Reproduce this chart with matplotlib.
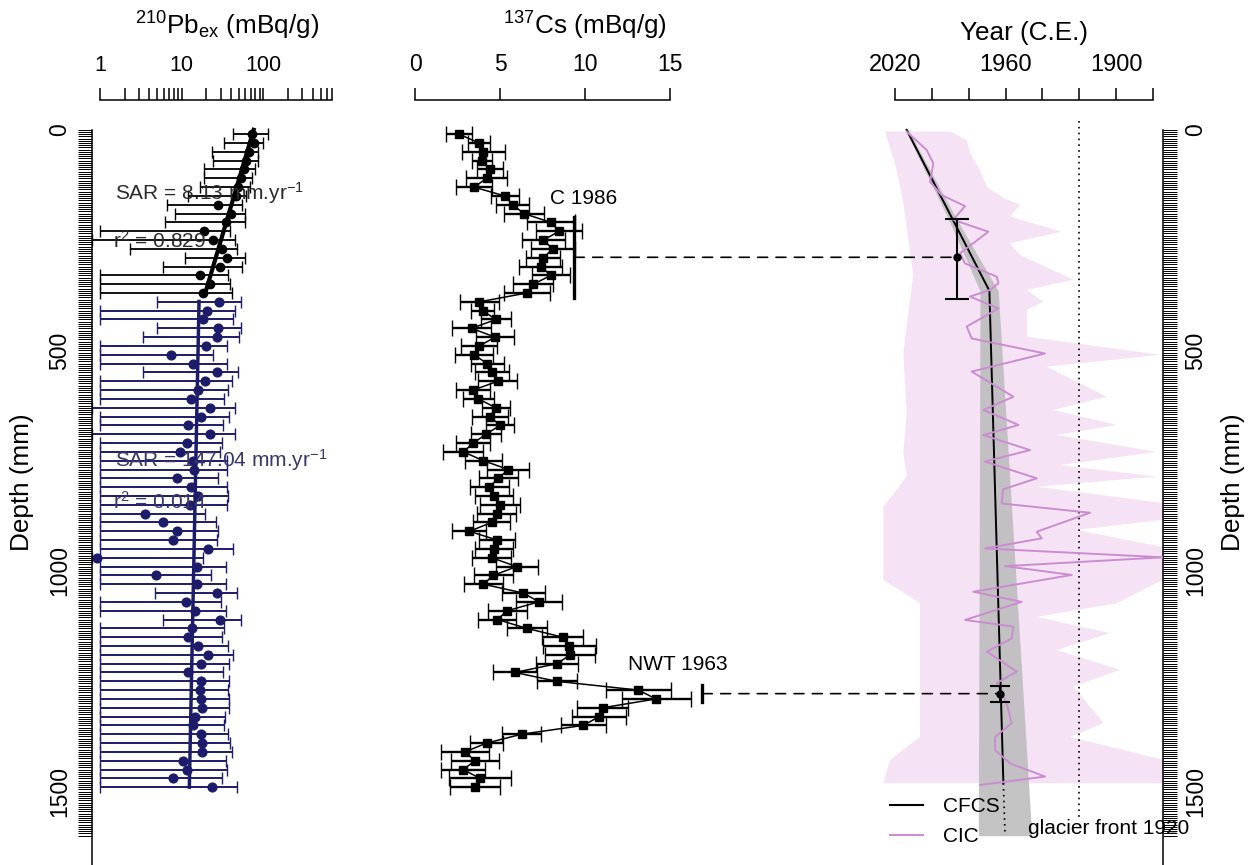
import numpy as np
import matplotlib.pyplot as plt
from matplotlib.lines import Line2D
from matplotlib.patches import ConnectionPatch
from matplotlib.ticker import NullFormatter

plt.rcParams['font.family'] = ['Liberation Sans', 'DejaVu Sans']
plt.rcParams['mathtext.fontset'] = 'custom'
plt.rcParams['mathtext.rm'] = 'Liberation Sans'
plt.rcParams['mathtext.it'] = 'Liberation Sans:italic'
plt.rcParams['mathtext.bf'] = 'Liberation Sans:bold'

# ---------------- data ----------------
# sample mid-depths (mm)
pb_depth_sup = [10, 30, 50, 70, 90, 110, 130, 150, 170, 190, 210, 230, 250, 270,
                290, 310, 330, 350, 370]
pb_depth_sub = [390, 410, 430, 450, 470, 490, 510, 530, 550, 570, 590, 610, 630,
                650, 670, 690, 710, 730, 750, 770, 790, 810, 830, 850, 870, 890,
                910, 930, 950, 970, 990, 1010, 1030, 1050, 1070, 1090, 1110, 1130,
                1150, 1170, 1190, 1210, 1230, 1250, 1270, 1290, 1310, 1330, 1350,
                1370, 1390, 1410, 1430, 1450, 1470, 1490]
cs_depth = pb_depth_sup + pb_depth_sub

# 210Pb excess (mBq/g), upper section (black) and lower section (navy)
pb_sup = [72.5, 76.7, 66.6, 61.2, 57.9, 53.2, 48.9, 46.2, 27.8, 40.1, 34.8, 18.8,
          24.2, 31.1, 35.8, 29.4, 16.7, 22.2, 18.2]
pb_sup_lo = [42.5, 32.9, 23.5, 24.2, 18.7, 18.7, 16.7, 12.0, 6.6, 8.3, 6.2, 1, 0.8,
             2.3, 11.0, 5.9, 1, 1, 1]
pb_sup_hi = [113.8, 98.9, 85.9, 85.9, 78.9, 72.5, 68.5, 62.0, 54.7, 59.6, 59.6, 39.0,
             45.0, 47.5, 59.6, 54.7, 36.9, 39.0, 41.3]
pb_sub = [28.6, 20.4, 18.2, 27.8, 27.0, 19.8, 7.4, 13.7, 27.0, 19.3,
          15.8, 13.0, 22.2, 17.2, 11.9, 22.2, 11.6, 9.5, 13.7, 14.1,
          8.8, 13.0, 15.8, 12.6, 3.55, 5.9, 8.8, 7.8, 21.0, 0.92,
          15.4, 4.85, 15.4, 27.0, 11.3, 14.5, 29.4, 13.4, 11.9, 15.8,
          21.0, 17.2, 11.9, 17.2, 16.7, 17.2, 17.7, 14.5, 13.7, 17.2,
          17.7, 17.7, 10.4, 11.6, 7.8, 23.5]
pb_sub_lo = [5.0, 1, 1, 5.0, 3.4, 1, 1, 1, 3.4, 1,
             1, 1, 0.8, 1, 1, 0.8, 1, 1, 1, 1,
             1, 1, 1, 1, 1, 1, 1, 1, 1, 0.8,
             1, 1, 1, 4.7, 1, 1, 5.9, 1, 1, 1,
             1, 1, 1, 1, 1, 1, 1, 1, 1, 1,
             1, 1, 1, 1, 1, 1]
pb_sub_hi = [53.9, 44.9, 42.9, 52.6, 50.9, 35.5, 24.4, 35.5, 49.5, 40.9,
             37.2, 32.9, 44.9, 38.2, 31.6, 44.9, 30.8, 29.4, 35.5, 35.5,
             28.1, 35.5, 37.2, 35.5, 19.3, 26.3, 28.1, 26.8, 42.9, 18.4,
             34.8, 22.6, 34.8, 48.1, 30.0, 34.8, 53.9, 32.9, 30.8, 37.2,
             42.9, 38.2, 31.6, 38.2, 37.2, 38.2, 38.2, 34.2, 32.9, 37.2,
             39.0, 40.9, 34.8, 35.5, 30.8, 48.1]
# fitted lines (end points)
fit_sup_pb = [76.0, 19.3]
fit_sup_depth = [0, 372]
fit_sub_pb = [16.3, 12.4]
fit_sub_depth = [389, 1490]

# 137Cs (mBq/g)
cs = [2.59, 3.78, 4.02, 3.92, 4.41, 4.22, 3.47, 5.29, 5.75, 6.41,
      8.0, 8.49, 7.55, 8.10, 7.55, 7.39, 8.0, 6.96, 6.57, 3.78,
      3.98, 4.76, 3.33, 4.71, 3.78, 3.47, 4.25, 4.51, 4.86, 3.43,
      3.73, 4.76, 4.41, 5.0, 4.18, 3.43, 2.84, 4.02, 5.49, 4.90,
      4.37, 4.65, 5.0, 4.80, 4.51, 3.20, 4.84, 4.65, 4.51, 5.98,
      4.61, 4.02, 6.37, 7.29, 5.43, 4.84, 6.57, 8.69, 9.08, 9.12,
      8.37, 5.88, 8.33, 13.14, 14.18, 11.04, 10.84, 9.90, 6.27, 4.22,
      2.94, 3.53, 2.84, 3.82, 3.53]
cs_err = [0.76, 0.64, 1.25, 0.59, 0.78, 1.2, 1.05, 0.83, 0.98, 1.2,
          1.4, 1.35, 1.27, 1.3, 1.0, 1.25, 1.13, 1.18, 1.35, 1.14,
          0.66, 0.86, 1.13, 1.12, 1.05, 1.1, 0.98, 1.0, 1.15, 1.0,
          0.9, 0.84, 1.08, 0.8, 0.9, 1.0, 1.18, 1.08, 1.23, 1.15,
          1.16, 1.13, 1.2, 1.14, 1.08, 1.0, 1.05, 1.13, 1.13, 1.23,
          1.13, 1.13, 1.27, 1.35, 1.13, 1.13, 1.18, 1.2, 1.57, 1.47,
          1.23, 1.3, 1.18, 1.9, 2.03, 1.5, 1.59, 1.32, 1.15, 0.96,
          1.43, 1.42, 1.3, 1.83, 1.45]

# chronomarkers
c1986_cs, c1986_range = 9.37, [197, 382]
c1986_year, c1986_depth, c1986_err = 1986.3, 289, [87, 95]
nwt_cs, nwt_range = 16.9, [1258, 1296]
nwt_year, nwt_depth, nwt_err = 1963.3, 1278, [18, 20]

# CFCS age model and its uncertainty band
cfcs_depth = [0, 365, 1481]
cfcs_year = [2013.7, 1968.8, 1961.2]
cfcs_ext_depth = [1481, 1600]
cfcs_ext_year = [1961.2, 1960.3]
band_depth = [0, 200, 365, 1600]
band_young = [2014.5, 1991.3, 1973.9, 1974.8]
band_old = [2012.8, 1986.9, 1964.0, 1945.8]

# CIC age model and its envelope
cic_depth = [4, 46, 76, 118, 148, 173, 204, 231, 280, 303, 333, 348, 363, 378,
             405, 446, 473, 507, 548, 605, 635, 669, 692, 726, 752, 790, 815,
             847, 868, 911, 926, 949, 969, 989, 1009, 1047, 1070, 1111, 1126,
             1153, 1183, 1228, 1254, 1300, 1345, 1376, 1406, 1436, 1466, 1485]
cic_year = [2013.7, 2002.8, 1999.2, 2001.0, 1994.7, 1982.0, 1988.4, 1969.4,
            1984.7, 1982.0, 1964.8, 1963.9, 1968.4, 1979.3, 1963.9, 1981.1,
            1978.4, 1938.6, 1978.4, 1955.8, 1972.0, 1953.0, 1972.0, 1946.7,
            1971.2, 1943.1, 1961.4, 1962.1, 1914.2, 1943.1, 1940.4, 1971.2,
            1874.4, 1960.3, 1924.1, 1977.5, 1951.3, 1982.0, 1955.8, 1956.7,
            1970.2, 1953.9, 1964.8, 1959.4, 1956.7, 1965.7, 1965.7, 1957.6,
            1938.6, 1973.9]
env_left_depth = [4, 91, 166, 330, 386, 507, 643, 733, 786, 855, 1020, 1073,
                  1376, 1428, 1481]
env_left_year = [2025.4, 2019.1, 2015.5, 2010.1, 2011.9, 2015.5, 2013.7, 2015.5,
                 2013.7, 2026.3, 2026.3, 2006.4, 2006.4, 2022.7, 2026.3]
env_right_depth = [4, 23, 53, 91, 129, 155, 170, 197, 231, 257, 284, 340, 363,
                   390, 408, 469, 510, 537, 605, 635, 669, 692, 730, 760, 786,
                   809, 846, 884, 907, 946, 1020, 1073, 1104, 1141, 1179, 1224,
                   1262, 1345, 1376, 1428, 1481]
env_right_year = [1990.2, 1981.1, 1979.3, 1973.9, 1970.2, 1961.2, 1952.2, 1957.6,
                  1929.6, 1957.6, 1952.2, 1923.2, 1948.5, 1939.5, 1948.5, 1948.5,
                  1876.2, 1937.7, 1905.1, 1934.1, 1899.7, 1932.3, 1878.0, 1930.5,
                  1878.0, 1943.1, 1874.6, 1874.6, 1921.4, 1874.6, 1874.6, 1899.7,
                  1943.1, 1903.3, 1932.3, 1897.9, 1923.2, 1906.9, 1925.0, 1874.6,
                  1874.6]
glacier_year = 1920

# ---------------- figure ----------------
W, H = 1251, 865
fig = plt.figure(figsize=(W / 100, H / 100), dpi=100)

DEPTH_LIM = (1666.4, -67.5)
navy = '#1c1c6b'
pink_fill = '#f5e3f5'
pink_line = '#cb8cd2'


def px_axes(x0, x1, y0=100, y1=865):
    return fig.add_axes([x0 / W, 1 - y1 / H, (x1 - x0) / W, (y1 - y0) / H])


def top_axis(ax, bounds, size):
    for s in ax.spines.values():
        s.set_visible(False)
    ax.spines['top'].set_visible(True)
    ax.spines['top'].set_bounds(*bounds)
    ax.spines['top'].set_linewidth(1.1)
    ax.xaxis.set_ticks_position('top')
    ax.tick_params(axis='x', which='both', direction='out', length=8.6,
                   width=1.1, labelsize=size, pad=9)
    ax.set_ylim(*DEPTH_LIM)
    ax.tick_params(axis='y', left=False, right=False, labelleft=False)
    ax.patch.set_alpha(0)


def depth_axis(ax, side):
    ax.spines[side].set_visible(True)
    ax.spines[side].set_bounds(0, DEPTH_LIM[0])
    ax.spines[side].set_linewidth(1.1)
    ax.yaxis.set_ticks_position(side)
    ax.set_yticks([0, 500, 1000, 1500], labels=['0', '500', '1000', '1500'])
    ax.set_yticks(np.arange(0, 1601, 5), minor=True)
    ax.tick_params(axis='y', which='both', direction='out', length=10,
                   width=0.7, labelsize=16.5, pad=5)
    if side == 'right':
        ax.tick_params(axis='y', labelright=True, labelleft=False)
    for lbl in ax.get_yticklabels():
        lbl.set_rotation(90)
        lbl.set_va('center')


# ---- panel 1 : 210Pb ----
ax1 = px_axes(92.08, 332.45)
ax1.set_xscale('log')
top_axis(ax1, (1, 700), 15.5)
ax1.set_xlim(0.8, 700)
ax1.set_xticks([1, 10, 100], labels=['1', '10', '100'])
ax1.set_xticks([2, 3, 4, 5, 6, 7, 8, 9, 20, 30, 40, 50, 60, 70, 80, 90,
                200, 300, 400, 500, 600, 700], minor=True)
ax1.xaxis.set_minor_formatter(NullFormatter())
depth_axis(ax1, 'left')

sup = np.array(pb_sup)
sub = np.array(pb_sub)
ax1.errorbar(pb_sup, pb_depth_sup,
             xerr=[sup - np.array(pb_sup_lo), np.array(pb_sup_hi) - sup],
             fmt='o', color='k', ms=6, capsize=4, elinewidth=1.3, capthick=1)
ax1.errorbar(pb_sub, pb_depth_sub,
             xerr=[sub - np.array(pb_sub_lo), np.array(pb_sub_hi) - sub],
             fmt='o', color=navy, ms=6.3, capsize=4, elinewidth=1.4, capthick=1)
ax1.plot(fit_sup_pb, fit_sup_depth, color='k', lw=3)
ax1.plot(fit_sub_pb, fit_sub_depth, color=navy, lw=2.5)
ax1.text(1.53, 143, 'SAR = 8.13 mm.yr$^{-1}$', fontsize=15, color='#2b2b2b',
         va='center')
ax1.text(1.44, 252, 'r$^{2}$ = 0.829', fontsize=15, color='#2b2b2b', va='center')
ax1.text(1.53, 749, 'SAR = 147.04 mm.yr$^{-1}$', fontsize=15, color='#38386a',
         va='center')
ax1.text(1.44, 844, 'r$^{2}$ = 0.014', fontsize=15, color='#38386a', va='center')

# ---- panel 2 : 137Cs ----
ax2 = px_axes(398, 738)
top_axis(ax2, (0, 15), 16.5)
ax2.set_xlim(-1, 19)
ax2.set_xticks([0, 5, 10, 15])
ax2.errorbar(cs, cs_depth, xerr=cs_err, fmt='-s', color='k', lw=1.1, ms=6,
             capsize=5.5, elinewidth=1.7, capthick=1)
ax2.plot([c1986_cs, c1986_cs], c1986_range, color='k', lw=2.4)
ax2.plot([nwt_cs, nwt_cs], nwt_range, color='k', lw=2.4)
ax2.text(7.94, 155, 'C 1986', fontsize=15, va='center')
ax2.text(12.53, 1213, 'NWT 1963', fontsize=15, va='center')

# ---- panel 3 : age models ----
ax3 = px_axes(872.9, 1163)
top_axis(ax3, (2020, 1880), 17)
ax3.set_xlim(2032, 1874.6)
ax3.set_xticks([2020, 2000, 1980, 1960, 1940, 1920, 1900, 1880],
               labels=['2020', '', '', '1960', '', '', '1900', ''])
depth_axis(ax3, 'right')

ax3.fill(env_left_year + env_right_year[::-1],
         env_left_depth + env_right_depth[::-1],
         color=pink_fill, lw=0, zorder=1)
ax3.fill_betweenx(band_depth, band_young, band_old, color='#bdbdbd',
                  alpha=0.9, lw=0, zorder=2)
ax3.plot(cfcs_year, cfcs_depth, color='k', lw=1.4, zorder=3)
ax3.plot(cfcs_ext_year, cfcs_ext_depth, color='k', lw=1.2, ls=(0, (1, 2.5)),
         zorder=3)
ax3.plot(cic_year, cic_depth, color=pink_line, lw=1.4, zorder=4)
ax3.plot([glacier_year, glacier_year], [-20, 1560], color='k', lw=1.2,
         ls=(0, (1, 2.5)), zorder=3)
ax3.errorbar(c1986_year, c1986_depth, yerr=[[c1986_err[0]], [c1986_err[1]]],
             fmt='o', color='k', ms=5, capsize=8.5, elinewidth=1.5,
             capthick=1.5, zorder=5)
ax3.errorbar(nwt_year, nwt_depth, yerr=[[nwt_err[0]], [nwt_err[1]]],
             fmt='o', color='k', ms=5, capsize=7, elinewidth=1.5,
             capthick=1.5, zorder=5)
ax3.text(1947.8, 1583, 'glacier front 1920', fontsize=15, va='center')

handles = [Line2D([], [], color='k', lw=1.5), Line2D([], [], color=pink_line, lw=1.5)]
ax3.legend(handles, ['CFCS', 'CIC'], loc='upper left', frameon=False,
           bbox_to_anchor=(890 / W, 1 - 797 / H), bbox_transform=fig.transFigure,
           borderpad=0, borderaxespad=0, handlelength=1.6, handletextpad=0.95,
           labelspacing=0.55, fontsize=15)

# dashed links between 137Cs markers and the age model
for x_cs, yr, d in [(c1986_cs, c1986_year, c1986_depth),
                    (nwt_cs, nwt_year, nwt_depth)]:
    con = ConnectionPatch(xyA=(x_cs, d), coordsA='data', axesA=ax2,
                          xyB=(yr, d), coordsB='data', axesB=ax3,
                          color='k', lw=1.2, ls=(0, (6, 5)))
    fig.add_artist(con)

# titles and depth labels
fig.text(227 / W, 1 - 35 / H, r'$^{210}$Pb$_{\mathrm{ex}}$ (mBq/g)',
         ha='center', va='baseline', fontsize=18.8)
fig.text(585 / W, 1 - 35 / H, r'$^{137}$Cs (mBq/g)', ha='center',
         va='baseline', fontsize=18.8)
fig.text(1024 / W, 1 - 40 / H, 'Year (C.E.)', ha='center', va='baseline',
         fontsize=18.8)
fig.text(22 / W, 1 - 482 / H, 'Depth (mm)', rotation=90, ha='center',
         va='center', fontsize=18.8)
fig.text(1233 / W, 1 - 482 / H, 'Depth (mm)', rotation=90, ha='center',
         va='center', fontsize=18.8)

fig.savefig('out.png', dpi=100)
